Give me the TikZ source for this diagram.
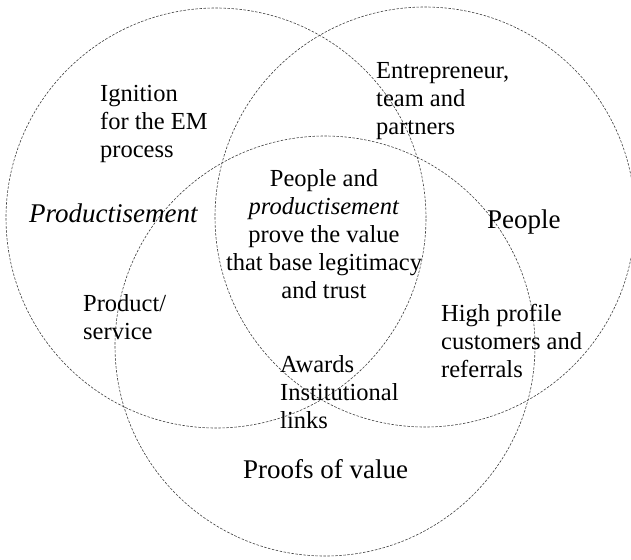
\documentclass[tikz,border=0pt]{standalone}
\usepackage{fontspec}
\setmainfont{Liberation Serif}
\begin{document}
\begin{tikzpicture}[x=1pt,y=1pt,
  ring/.style={draw=black!75, line width=0.6pt, dash pattern=on 2.5pt off 1.5pt},
  small/.style={inner sep=0pt, font=\fontsize{24.5}{28}\selectfont},
  big/.style={inner sep=0pt, font=\fontsize{27}{31}\selectfont}]
\useasboundingbox (0,0) rectangle (631,-559);
% circles
\draw[ring] (216,-218) circle[radius=210];
\draw[ring] (425,-217) circle[radius=210];
\draw[ring] (325,-346) circle[radius=210];
% labels
\node[small, anchor=base west] (ign) at (100,-102)
  {\begin{tabular}[t]{@{}l@{}}Ignition\\for the EM\\process\end{tabular}};
\node[big, anchor=base west] (prod) at (29,-222) {\textit{Productisement}};
\node[small, anchor=base west] (ent) at (376,-79)
  {\begin{tabular}[t]{@{}l@{}}Entrepreneur,\\team and\\partners\end{tabular}};
\node[big, anchor=base west] (peo) at (487,-228) {People};
\node[small, anchor=base] (mid) at (324,-186)
  {\begin{tabular}[t]{@{}c@{}}People and\\\textit{productisement}\\prove the value\\that base legitimacy\\and trust\end{tabular}};
\node[small, anchor=base west] (ps) at (83,-311)
  {\begin{tabular}[t]{@{}l@{}}Product/\\service\end{tabular}};
\node[small, anchor=base west] (aw) at (280,-372)
  {\begin{tabular}[t]{@{}l@{}}Awards\\Institutional\\links\end{tabular}};
\node[small, anchor=base west] (hp) at (441,-321)
  {\begin{tabular}[t]{@{}l@{}}High profile\\customers and\\referrals\end{tabular}};
\node[big, anchor=base west] (pov) at (243,-478) {Proofs of value};
\end{tikzpicture}
\end{document}
